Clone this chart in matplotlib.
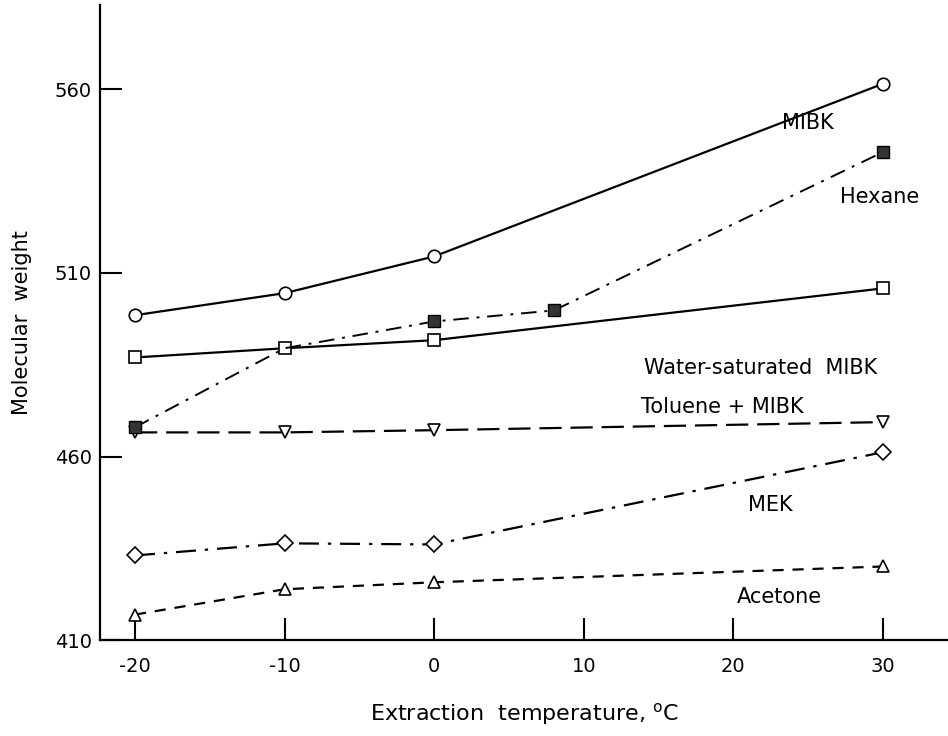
import matplotlib
matplotlib.use('Agg')
from matplotlib import pyplot as plt

temp = [-20, -10, 0, 30]
mibk = [498.5, 504.5, 514.5, 561.5]
water_mibk = [487, 489.5, 491.7, 505.8]
toluene_mibk = [466.6, 466.6, 467.2, 469.4]
mek = [433.1, 436.4, 436.1, 461.2]
acetone = [417, 423.9, 425.8, 430.1]

hexane_temp = [-20, -10, 0, 8, 30]
hexane = [468, 489.5, 496.8, 499.8, 542.9]

plt.rcParams['font.family'] = 'DejaVu Sans'
plt.rcParams['axes.unicode_minus'] = False
fig = plt.figure(figsize=(9.48, 7.36), dpi=100)
ax = fig.add_axes([0.1055, 0.13, 0.8945, 0.863])

k = dict(color='black', lw=1.6, ms=9, mfc='white', mec='black', mew=1.2)
ax.plot(temp, mibk, '-', marker='o', **k)
ax.plot(temp, water_mibk, '-', marker='s', **k)
ax.plot(temp, toluene_mibk, marker='v', ls=(0, (10, 4)), **k)
ax.plot(temp, mek, marker='D', ls=(0, (9, 4, 1.5, 4)), **dict(k, ms=8))
ax.plot(temp, acetone, marker='^', ls=(0, (5, 4)), **dict(k, ms=8))
ax.plot(hexane_temp, hexane, marker='s', ls=(0, (8, 4, 1.5, 4)), markevery=[0, 2, 3, 4],
        color='black', lw=1.4, ms=8, mfc='#333333', mec='black')

labels = [('MIBK', 25.0, 550.8), ('Hexane', 29.8, 530.6),
          ('Water-saturated  MIBK', 21.8, 484), ('Toluene + MIBK', 19.25, 473.4),
          ('MEK', 22.5, 446.8), ('Acetone', 23.1, 421.7)]
for txt, x, y in labels:
    ax.text(x, y, txt, fontsize=15, ha='center', va='center')

ax.set_xlim(-22.34, 34.35)
ax.set_ylim(410, 582.9)
ax.set_xticks([-20, -10, 0, 10, 20, 30])
ax.set_yticks([410, 460, 510, 560])
ax.tick_params(direction='in', length=16, width=1.5, labelsize=14)
ax.tick_params(axis='x', pad=12)
ax.tick_params(axis='y', pad=6)
for s in ['top', 'right']:
    ax.spines[s].set_visible(False)
for s in ['left', 'bottom']:
    ax.spines[s].set_linewidth(1.6)

ax.set_xlabel('Extraction  temperature, $^\\mathregular{o}$C', fontsize=16, labelpad=18)
ax.set_ylabel('Molecular  weight', fontsize=15, labelpad=16)

fig.savefig('out.png', dpi=100)
